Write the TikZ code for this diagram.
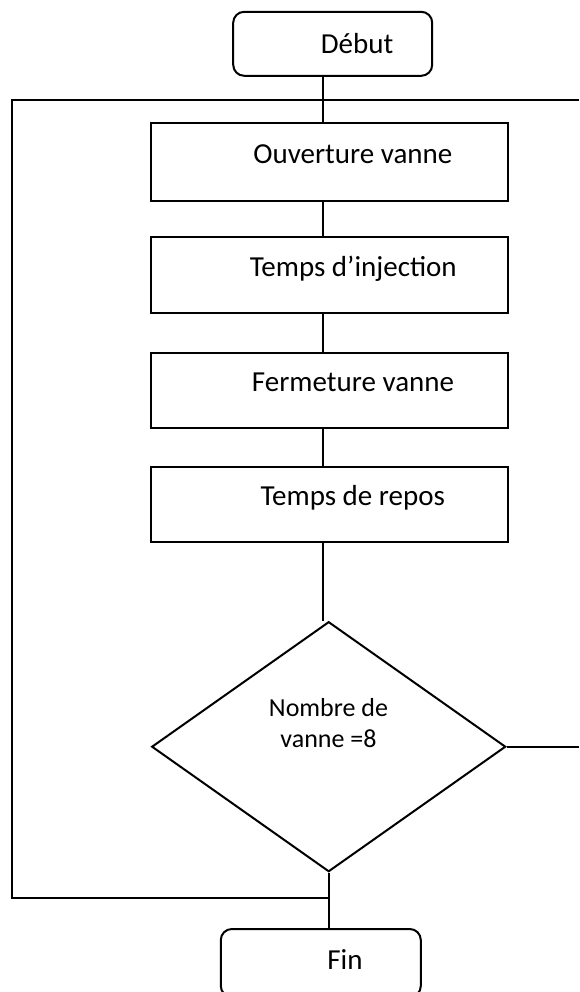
\documentclass[tikz,border=0pt]{standalone}
\usepackage{fontspec}
\setmainfont{Carlito}
\usetikzlibrary{shapes.geometric}
\begin{document}
\begin{tikzpicture}[x=1pt,y=-1pt,
  line width=2pt,
  stepbox/.style={draw, rectangle, inner sep=0pt, minimum width=357pt},
  termbox/.style={draw, rectangle, rounded corners=11pt, inner sep=0pt, minimum width=199pt, minimum height=64pt},
  testbox/.style={draw, diamond, inner sep=0pt, minimum width=354pt, minimum height=250pt},
  boxtext/.style={anchor=base, inner sep=0pt, font=\fontsize{29}{34}\selectfont},
  testtext/.style={anchor=base, inner sep=0pt, font=\fontsize{26}{31}\selectfont}]
\useasboundingbox (0,0) rectangle (579,992);

% shapes
\node[termbox] (deb) at (332.7,43.8) {};
\node[stepbox, minimum height=78pt] (o1) at (329.5,162.2) {};
\node[stepbox, minimum height=76pt] (o2) at (329.5,275.3) {};
\node[stepbox, minimum height=75pt] (o3) at (329.5,390.2) {};
\node[stepbox, minimum height=75pt] (o4) at (329.5,504.2) {};
\node[testbox] (dia) at (328.7,746.7) {};
\node[termbox, minimum width=200pt, minimum height=68pt] (fin) at (320.8,963) {};

% labels
\node[boxtext] (tdeb) at (357,53.3) {Début};
\node[boxtext] (t1) at (352.8,163.3) {Ouverture vanne};
\node[boxtext] (t2) at (353.3,276.7) {Temps d’injection};
\node[boxtext] (t3) at (353,391) {Fermeture vanne};
\node[boxtext] (t4) at (352.8,505) {Temps de repos};
\node[testtext] (td1) at (328.5,716.7) {Nombre de};
\node[testtext] (td2) at (328.5,747.3) {vanne =8};
\node[boxtext] (tfin) at (345,969.3) {Fin};

% main spine and loop
\coordinate (spine) at (322.5,0);
\coordinate (lt) at (11.7,100.5);
\coordinate (rt) at (579,100.5);
\coordinate (lb) at (11.7,897.7);
\coordinate (rr) at (579,746.7);

\draw (deb.south -| spine) -- (o1.north -| spine);
\draw (o1.south -| spine) -- (o2.north -| spine);
\draw (o2.south -| spine) -- (o3.north -| spine);
\draw (o3.south -| spine) -- (o4.north -| spine);
\draw (o4.south -| spine) -- (dia.north -| spine);
\draw (dia.south) -- (fin.north -| dia.south);
\draw (dia.south |- lb) -- (lb) -- (lt) -- (rt);
\draw (dia.east) -- (rr);
\end{tikzpicture}
\end{document}
